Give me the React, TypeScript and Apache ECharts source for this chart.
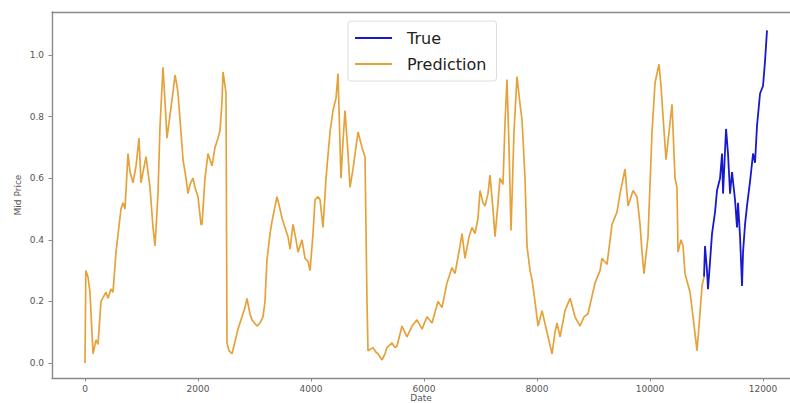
import React, { useEffect, useRef } from "react";
import * as echarts from "echarts";

// Prediction (running-average) mid prices over the training range
const predictionDates = [
  0, 15, 53, 88, 142, 195, 230, 283, 372, 407, 460, 496, 549, 637, 673, 708, 761, 797, 850, 903,
  956, 991, 1027, 1080, 1115, 1150, 1204, 1239, 1292, 1328, 1381, 1416, 1451, 1487, 1522, 1558, 1593, 1628, 1646, 1699,
  1735, 1788, 1823, 1859, 1912, 1947, 2000, 2053, 2071, 2124, 2177, 2248, 2301, 2354, 2390, 2425, 2443, 2478, 2496, 2513,
  2549, 2602, 2655, 2708, 2779, 2832, 2867, 2920, 2956, 3044, 3098, 3151, 3186, 3221, 3275, 3310, 3398, 3452, 3487, 3540,
  3593, 3629, 3682, 3735, 3770, 3841, 3894, 3947, 3983, 4036, 4071, 4124, 4160, 4213, 4266, 4337, 4390, 4443, 4478, 4531,
  4567, 4602, 4655, 4691, 4744, 4832, 4903, 4956, 4991, 5009, 5098, 5151, 5186, 5257, 5310, 5345, 5434, 5487, 5522, 5611,
  5699, 5788, 5876, 5965, 6053, 6142, 6248, 6319, 6407, 6496, 6549, 6638, 6673, 6726, 6797, 6850, 6903, 6956, 6992, 7045,
  7080, 7133, 7168, 7221, 7257, 7310, 7345, 7398, 7434, 7469, 7505, 7540, 7593, 7646, 7700, 7735, 7788, 7823, 7877, 7912,
  7965, 8018, 8089, 8177, 8266, 8319, 8354, 8408, 8496, 8585, 8673, 8762, 8832, 8903, 9027, 9116, 9151, 9239, 9328, 9416,
  9470, 9558, 9611, 9700, 9770, 9824, 9859, 9894, 9965, 10036, 10089, 10160, 10195, 10231, 10284, 10337, 10390, 10443, 10478, 10496,
  10549, 10585, 10620, 10709, 10762, 10832, 10868, 10921, 10956,
];
const predictionPrices = [
  0.0, 0.3, 0.28, 0.23, 0.03, 0.075, 0.06, 0.2, 0.23, 0.21, 0.24, 0.23, 0.36, 0.5, 0.52, 0.5, 0.68, 0.62, 0.585, 0.64,
  0.73, 0.585, 0.62, 0.67, 0.62, 0.57, 0.44, 0.38, 0.55, 0.77, 0.96, 0.85, 0.73, 0.78, 0.83, 0.88, 0.935, 0.9, 0.875, 0.75,
  0.66, 0.6, 0.55, 0.58, 0.6, 0.57, 0.54, 0.45, 0.45, 0.6, 0.68, 0.64, 0.7, 0.73, 0.755, 0.85, 0.945, 0.9, 0.875, 0.065,
  0.04, 0.03, 0.07, 0.11, 0.15, 0.18, 0.21, 0.16, 0.14, 0.12, 0.13, 0.15, 0.2, 0.335, 0.42, 0.46, 0.54, 0.5, 0.47, 0.44,
  0.41, 0.37, 0.45, 0.4, 0.36, 0.4, 0.34, 0.33, 0.3, 0.42, 0.53, 0.54, 0.53, 0.44, 0.6, 0.75, 0.82, 0.86, 0.94, 0.6,
  0.72, 0.82, 0.68, 0.57, 0.63, 0.75, 0.7, 0.67, 0.2, 0.04, 0.05, 0.035, 0.03, 0.01, 0.03, 0.05, 0.065, 0.05, 0.055, 0.12,
  0.085, 0.12, 0.14, 0.11, 0.15, 0.13, 0.2, 0.18, 0.26, 0.31, 0.29, 0.38, 0.42, 0.34, 0.41, 0.44, 0.42, 0.47, 0.56, 0.52,
  0.51, 0.55, 0.61, 0.5, 0.41, 0.52, 0.6, 0.58, 0.78, 0.92, 0.7, 0.43, 0.75, 0.93, 0.84, 0.79, 0.6, 0.38, 0.3, 0.27,
  0.2, 0.12, 0.17, 0.1, 0.03, 0.1, 0.13, 0.085, 0.17, 0.21, 0.15, 0.12, 0.15, 0.16, 0.26, 0.3, 0.34, 0.32, 0.45, 0.49,
  0.55, 0.63, 0.51, 0.56, 0.54, 0.45, 0.36, 0.29, 0.41, 0.75, 0.91, 0.97, 0.9, 0.8, 0.66, 0.75, 0.84, 0.6, 0.57, 0.36,
  0.4, 0.38, 0.29, 0.23, 0.15, 0.04, 0.12, 0.25, 0.28,
];

// True mid prices over the test range
const trueDates = [
  10956, 10974, 11009, 11027, 11063, 11098, 11151, 11186, 11240, 11275, 11293, 11346, 11381, 11417, 11452, 11505, 11540, 11558, 11594, 11629,
  11647, 11682, 11717, 11771, 11824, 11859, 11894, 11948, 12001, 12036, 12071,
];
const truePrices = [
  0.28, 0.38, 0.3, 0.24, 0.33, 0.42, 0.49, 0.56, 0.6, 0.68, 0.55, 0.76, 0.68, 0.55, 0.62, 0.53, 0.44, 0.52, 0.41, 0.25,
  0.36, 0.45, 0.51, 0.59, 0.68, 0.65, 0.77, 0.875, 0.9, 0.98, 1.08,
];

const xTicks = [0, 2000, 4000, 6000, 8000, 10000, 12000];
const yTicks = [0, 0.2, 0.4, 0.6, 0.8, 1.0];

const FONT = "DejaVu Sans";
const SPINE = "#8a8a8a";

export default function App() {
  const ref = useRef<HTMLDivElement>(null);

  useEffect(() => {
    document.body.style.margin = "0";
    const chart = echarts.init(ref.current!, null, { renderer: "svg" });
    const zip = (xs: number[], ys: number[]) => xs.map((x, i) => [x, ys[i]]);

    const labelStyle = { fontFamily: FONT, fontSize: 9, color: "#555555" };

    chart.setOption({
      animation: false,
      backgroundColor: "#ffffff",
      grid: {
        left: 52,
        top: 12,
        right: 0,
        bottom: 25,
        outerBoundsMode: "none",
        containLabel: false,
      },
      legend: {
        orient: "vertical",
        left: 348,
        top: 21,
        padding: [8, 10, 8, 7],
        backgroundColor: "#ffffff",
        borderColor: "#dddddd",
        borderWidth: 1,
        borderRadius: 3,
        itemWidth: 37,
        itemHeight: 2,
        itemGap: 8,
        icon: "rect",
        data: ["True", "Prediction"],
        textStyle: {
          fontFamily: FONT,
          fontSize: 16,
          lineHeight: 18,
          color: "#222222",
          padding: [0, 0, 0, 10],
        },
      },
      xAxis: [
        {
          type: "value",
          position: "bottom",
          min: -584,
          max: 12478,
          name: "Date",
          nameLocation: "middle",
          nameGap: 15,
          nameMoveOverlap: false,
          nameTextStyle: labelStyle,
          splitLine: { show: false },
          axisLine: { show: true, onZero: false, lineStyle: { color: SPINE, width: 1.4 } },
          axisTick: {
            show: true,
            length: 3.5,
            lineStyle: { color: SPINE },
            customValues: xTicks,
          },
          axisLabel: {
            ...labelStyle,
            margin: 6,
            customValues: xTicks,
            formatter: (v: number) => String(v),
          },
        },
        {
          // top spine only
          type: "value",
          position: "top",
          min: -584,
          max: 12478,
          splitLine: { show: false },
          axisLine: { show: true, onZero: false, lineStyle: { color: SPINE, width: 1.4 } },
          axisTick: { show: false },
          axisLabel: { show: false },
        },
      ],
      yAxis: {
        type: "value",
        min: -0.0487,
        max: 1.1396,
        name: "Mid Price",
        nameLocation: "middle",
        nameGap: 30,
        nameRotate: 90,
        nameMoveOverlap: false,
        nameTextStyle: labelStyle,
        splitLine: { show: false },
        axisLine: { show: true, onZero: false, lineStyle: { color: SPINE, width: 1.4 } },
        axisTick: {
          show: true,
          length: 3.5,
          lineStyle: { color: SPINE },
          customValues: yTicks,
        },
        axisLabel: {
          ...labelStyle,
          margin: 8,
          customValues: yTicks,
          formatter: (v: number) => v.toFixed(1),
        },
      },
      series: [
        {
          name: "True",
          type: "line",
          xAxisIndex: 0,
          data: zip(trueDates, truePrices),
          showSymbol: false,
          color: "#1818d0",
          lineStyle: { width: 1.8, color: "#1818d0" },
        },
        {
          name: "Prediction",
          type: "line",
          xAxisIndex: 0,
          data: zip(predictionDates, predictionPrices),
          showSymbol: false,
          color: "#e6a23a",
          lineStyle: { width: 1.7, color: "#e6a23a" },
        },
      ],
    });

    return () => chart.dispose();
  }, []);

  return (
    <div
      ref={ref}
      style={{ position: "absolute", left: 0, top: 0, width: 790, height: 403 }}
    />
  );
}
